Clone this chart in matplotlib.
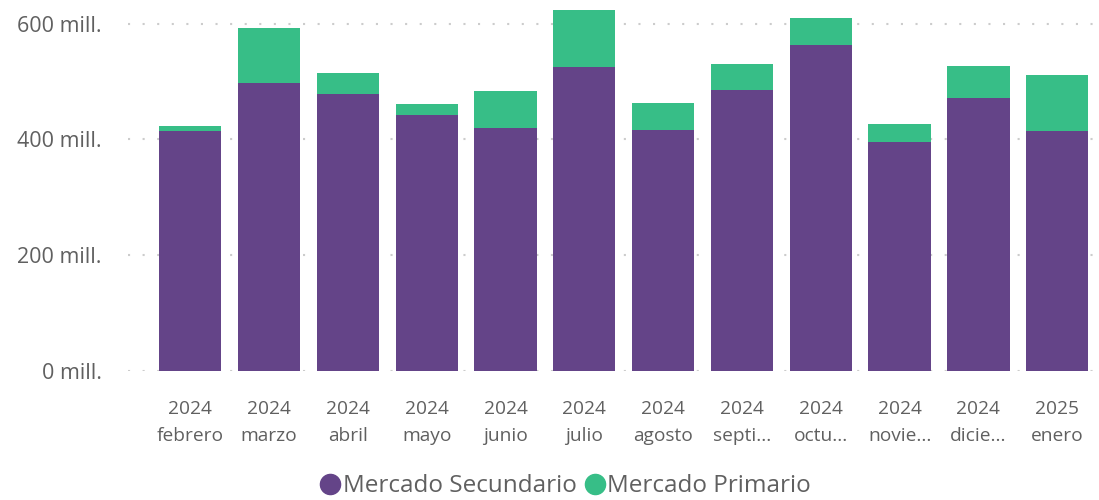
import matplotlib.pyplot as plt
from matplotlib.lines import Line2D
import numpy as np

# -------------------------------------------------------
# Data (mill.)
# -------------------------------------------------------
years = ["2024", "2024", "2024", "2024", "2024", "2024",
         "2024", "2024", "2024", "2024", "2024", "2025"]
months = ["febrero", "marzo", "abril", "mayo", "junio", "julio",
          "agosto", "septi...", "octu...", "novie...", "dicie...", "enero"]
secundario = [415, 498, 479, 443, 420, 526, 417, 486, 564, 396, 472, 415]
primario = [9, 95, 36, 19, 64, 98, 46, 45, 46, 31, 55, 97]

PURPLE = "#644488"
GREEN = "#37BE87"
TEXT = "#606060"

plt.rcParams['font.family'] = ['Open Sans', 'DejaVu Sans']

fig = plt.figure(figsize=(10.99, 5.0), dpi=100)
ax = fig.add_axes([0.1165, 0.258, 0.8835, 0.742])

x = np.arange(len(months))
ax.bar(x, secundario, width=0.79, color=PURPLE, zorder=2)
ax.bar(x, primario, width=0.79, bottom=secundario, color=GREEN, zorder=2)

ax.set_xlim(-0.79, 11.53)
ax.set_ylim(0, 641)
ax.set_yticks([0, 200, 400, 600])
ax.set_yticklabels(["0 mill.", "200 mill.", "400 mill.", "600 mill."])
ax.set_xticks(x)
ax.set_xticklabels([y + "\n" + m for y, m in zip(years, months)], linespacing=1.65)

ax.tick_params(axis='y', length=0, pad=19, labelsize=15.5, labelcolor=TEXT)
ax.tick_params(axis='x', length=0, pad=21, labelsize=13.8, labelcolor=TEXT)

ax.grid(axis='y', color="#cccccc", linestyle=(0, (1, 6)), linewidth=1.5, zorder=0)
for s in ax.spines.values():
    s.set_visible(False)

handles = [
    Line2D([], [], marker='o', linestyle='', markersize=14.5, color=PURPLE),
    Line2D([], [], marker='o', linestyle='', markersize=14.5, color=GREEN),
]
leg = fig.legend(handles, ["Mercado Secundario", "Mercado Primario"],
                 loc='lower center', bbox_to_anchor=(0.513, -0.04), ncol=2,
                 frameon=False, fontsize=17.5, handletextpad=-0.05,
                 columnspacing=0.2, handlelength=1.1)
for t in leg.get_texts():
    t.set_color(TEXT)

fig.savefig("out.png", dpi=100)
